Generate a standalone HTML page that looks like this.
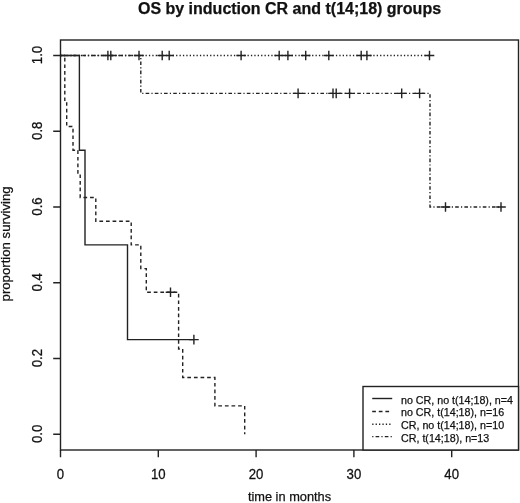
<!DOCTYPE html>
<html><head><meta charset="utf-8"><style>
html,body{margin:0;padding:0;background:#fff;}
svg{display:block;will-change:transform;}
text{font-family:"Liberation Sans",sans-serif;fill:#111;stroke:#111;stroke-width:0.25px;}
.ax{font-size:13.2px;}
.xl{font-size:12.8px;}
.yl{font-size:13.2px;}
.ti{font-size:16px;font-weight:bold;fill:#111;}
.lg{font-size:10.7px;}
</style></head><body>
<svg width="520" height="503" viewBox="0 0 520 503">
<rect width="520" height="503" fill="#fff"/>
<rect x="60.5" y="40" width="458" height="410" fill="none" stroke="#222" stroke-width="1.4"/>
<path d="M60.5 450V457.2M158.3 450V457.2M256.1 450V457.2M353.9 450V457.2M451.7 450V457.2" fill="none" stroke="#222" stroke-width="1.4"/>
<path d="M53.2 434.3H60.5M53.2 358.54H60.5M53.2 282.78H60.5M53.2 207.02H60.5M53.2 131.26H60.5M53.2 55.5H60.5" fill="none" stroke="#222" stroke-width="1.4"/>
<text transform="translate(60.5 478.8) scale(1 1.1)" text-anchor="middle" class="ax">0</text>
<text transform="translate(158.3 478.8) scale(1 1.1)" text-anchor="middle" class="ax">10</text>
<text transform="translate(256.1 478.8) scale(1 1.1)" text-anchor="middle" class="ax">20</text>
<text transform="translate(353.9 478.8) scale(1 1.1)" text-anchor="middle" class="ax">30</text>
<text transform="translate(451.7 478.8) scale(1 1.1)" text-anchor="middle" class="ax">40</text>
<text transform="translate(42.2 433.80) rotate(-90) scale(1 1.06)" text-anchor="middle" class="ax">0.0</text>
<text transform="translate(42.2 358.04) rotate(-90) scale(1 1.06)" text-anchor="middle" class="ax">0.2</text>
<text transform="translate(42.2 282.28) rotate(-90) scale(1 1.06)" text-anchor="middle" class="ax">0.4</text>
<text transform="translate(42.2 206.52) rotate(-90) scale(1 1.06)" text-anchor="middle" class="ax">0.6</text>
<text transform="translate(42.2 130.76) rotate(-90) scale(1 1.06)" text-anchor="middle" class="ax">0.8</text>
<text transform="translate(42.2 55.00) rotate(-90) scale(1 1.06)" text-anchor="middle" class="ax">1.0</text>
<text x="289.5" y="501.3" text-anchor="middle" class="xl">time in months</text>
<text transform="translate(9.9 243.9) rotate(-90)" text-anchor="middle" class="yl">proportion surviving</text>
<text x="289.5" y="13.6" text-anchor="middle" class="ti">OS by induction CR and t(14;18) groups</text>
<path d="M60.5 55.5H429.5" fill="none" stroke="#222" stroke-width="1.4" stroke-dasharray="1.3 2.1"/>
<path d="M60.5 55.5H140.8V93.38H430V207.02H501" fill="none" stroke="#222" stroke-width="1.4" stroke-dasharray="1.2 2.2 3.6 2.2"/>
<path d="M60.5 55.5H64.8V102.85H66.7V126.52H73.0V150.2H77.9V173.88H80.2V197.55H95.8V221.22H131.2V244.9H140.8V268.58H146.3V292.25H178.6V349.07H182.7V377.48H214.9V405.89H244.7V434.3" fill="none" stroke="#222" stroke-width="1.4" stroke-dasharray="3.7 2.9"/>
<path d="M60.5 55.5H79.4V150.2H85V244.9H127.5V339.6H193.9" fill="none" stroke="#222" stroke-width="1.4"/>
<path d="M189.10 339.60H198.70M193.90 334.80V344.40M165.70 292.25H175.30M170.50 287.45V297.05M157.40 55.50H167.00M162.20 50.70V60.30M164.40 55.50H174.00M169.20 50.70V60.30M236.30 55.50H245.90M241.10 50.70V60.30M274.40 55.50H284.00M279.20 50.70V60.30M283.10 55.50H292.70M287.90 50.70V60.30M300.90 55.50H310.50M305.70 50.70V60.30M324.00 55.50H333.60M328.80 50.70V60.30M356.40 55.50H366.00M361.20 50.70V60.30M362.10 55.50H371.70M366.90 50.70V60.30M424.70 55.50H434.30M429.50 50.70V60.30M103.10 55.50H112.70M107.90 50.70V60.30M106.00 55.50H115.60M110.80 50.70V60.30M134.20 55.50H143.80M139.00 50.70V60.30M293.30 93.38H302.90M298.10 88.58V98.18M328.20 93.38H337.80M333.00 88.58V98.18M331.40 93.38H341.00M336.20 88.58V98.18M344.80 93.38H354.40M349.60 88.58V98.18M396.90 93.38H406.50M401.70 88.58V98.18M414.80 93.38H424.40M419.60 88.58V98.18M440.70 207.02H450.30M445.50 202.22V211.82M496.20 207.02H505.80M501.00 202.22V211.82" fill="none" stroke="#222" stroke-width="1.4"/>
<rect x="363" y="386.5" width="155.5" height="63.5" fill="#fff" stroke="#222" stroke-width="1.4"/>
<path d="M372.2 398.50H392.2" fill="none" stroke="#222" stroke-width="1.4"/>
<text x="401" y="403.60" class="lg">no CR, no t(14;18), n=4</text>
<path d="M372.2 411.50H391.9" fill="none" stroke="#222" stroke-width="1.4" stroke-dasharray="3.7 2.9"/>
<text x="401" y="416.30" class="lg">no CR, t(14;18), n=16</text>
<path d="M372.2 424.20H392.2" fill="none" stroke="#222" stroke-width="1.4" stroke-dasharray="1.3 2.1"/>
<text x="401" y="429.00" class="lg">CR, no t(14;18), n=10</text>
<path d="M372.2 436.60H392.2" fill="none" stroke="#222" stroke-width="1.4" stroke-dasharray="1.2 2.2 3.6 2.2"/>
<text x="401" y="441.70" class="lg">CR, t(14;18), n=13</text>
</svg>
</body></html>
